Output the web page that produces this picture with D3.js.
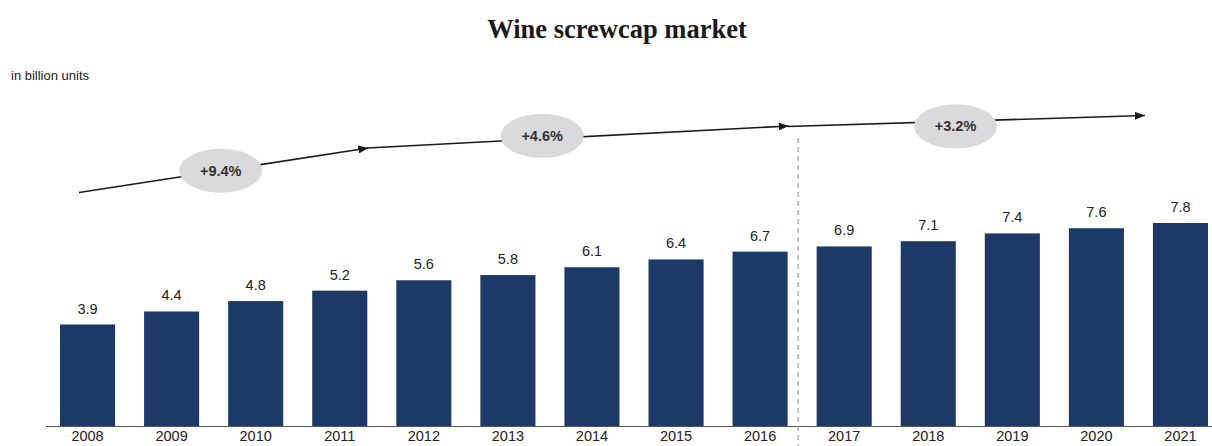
<!DOCTYPE html>
<html>
<head>
<meta charset="utf-8">
<script src="https://cdn.jsdelivr.net/npm/d3@7"></script>
<style>
  body { margin: 0; background: #fff; }
  text { font-family: "Liberation Sans", Arial, sans-serif; }
</style>
</head>
<body>
<div id="chart"></div>
<script>
// market volume, billion units
var years = ["2008","2009","2010","2011","2012","2013","2014","2015","2016","2017","2018","2019","2020","2021"];
var values = [3.9, 4.4, 4.8, 5.2, 5.6, 5.8, 6.1, 6.4, 6.7, 6.9, 7.1, 7.4, 7.6, 7.8];

// growth rate labels for each period
var cagrLabels = ["+9.4%", "+4.6%", "+3.2%"];
var cagrFrom = ["2008", "2011", "2016"];
var cagrTo = ["2011", "2016", "2021"];

var width = 1212, height = 446;
var margin = {top: 223, left: 46, right: 0, bottom: 20};

var svg = d3.select("#chart")
    .append("svg")
    .attr("width", width)
    .attr("height", height);

var xScale = d3.scaleBand()
    .domain(years)
    .range([45.5, 1222.5])
    .paddingInner(0.345)
    .paddingOuter(0.1725);

var yScale = d3.scaleLinear()
    .domain([0, d3.max(values)])
    .range([height - margin.bottom, margin.top]);

// title
svg.append("text")
    .attr("x", 617)
    .attr("y", 38)
    .attr("text-anchor", "middle")
    .style("font-family", "'Liberation Serif', 'Times New Roman', serif")
    .style("font-weight", "bold")
    .style("font-size", "26.5px")
    .attr("fill", "#1a1a1a")
    .text("Wine screwcap market");

svg.append("text")
    .attr("x", 11)
    .attr("y", 80)
    .style("font-size", "13px")
    .attr("fill", "#222")
    .text("in billion units");

// bars
svg.selectAll("rect.bar")
    .data(values)
    .enter()
    .append("rect")
    .attr("class", "bar")
    .attr("x", function(d, i) { return xScale(years[i]); })
    .attr("y", function(d) { return yScale(d); })
    .attr("width", xScale.bandwidth())
    .attr("height", function(d) { return yScale(0) - yScale(d); })
    .attr("fill", "#1b3a68");

svg.selectAll("text.val")
    .data(values)
    .enter()
    .append("text")
    .attr("class", "val")
    .attr("x", function(d, i) { return xScale(years[i]) + xScale.bandwidth() / 2; })
    .attr("y", function(d) { return yScale(d) - 11; })
    .attr("text-anchor", "middle")
    .style("font-size", "14.5px")
    .attr("fill", "#222")
    .text(function(d) { return d.toFixed(1); });

// axis
var xAxis = svg.append("g")
    .attr("transform", `translate(0,${yScale(0)})`)
    .call(d3.axisBottom(xScale).tickSize(0).tickPadding(5));
xAxis.select(".domain").remove();
xAxis.selectAll("text")
    .style("font-family", "'Liberation Sans', Arial, sans-serif")
    .style("font-size", "14.5px")
    .attr("fill", "#222");

svg.append("line")
    .attr("x1", 46)
    .attr("x2", width)
    .attr("y1", yScale(0) + 0.5)
    .attr("y2", yScale(0) + 0.5)
    .attr("stroke", "#555")
    .attr("stroke-width", 1.2);

// forecast divider
var divX = xScale("2016") + xScale.bandwidth() + 10.5;
svg.append("line")
    .attr("x1", divX)
    .attr("x2", divX)
    .attr("y1", 138)
    .attr("y2", height)
    .attr("stroke", "#888")
    .attr("stroke-width", 1)
    .attr("stroke-dasharray", "5,4");

// trend arrows
svg.append("defs").append("marker")
    .attr("id", "head")
    .attr("viewBox", "0 0 10 8")
    .attr("refX", 10)
    .attr("refY", 4)
    .attr("markerWidth", 10)
    .attr("markerHeight", 8)
    .attr("markerUnits", "userSpaceOnUse")
    .attr("orient", "auto")
    .append("path")
    .attr("d", "M0,0L10,4L0,8Z")
    .attr("fill", "#1a1a1a");

var arrowStartX = [xScale("2008") + 19, xScale("2011") + xScale.bandwidth(), xScale("2016") + xScale.bandwidth()];
var arrowEndX = [xScale("2011") + xScale.bandwidth() + 1, xScale("2016") + xScale.bandwidth() + 1, xScale("2021") - 8];
var arrowStartY = [192.5, 148, 126.5];
var arrowEndY = [148, 126, 115.5];
var bubbleT = [0.49, 0.415, 0.47];
var bubbleDy = [0, -3, 5];

cagrLabels.forEach(function(lab, i) {
    svg.append("line")
        .attr("x1", arrowStartX[i])
        .attr("y1", arrowStartY[i])
        .attr("x2", arrowEndX[i])
        .attr("y2", arrowEndY[i])
        .attr("stroke", "#1a1a1a")
        .attr("stroke-width", 1.6)
        .attr("marker-end", "url(#head)");
});

cagrLabels.forEach(function(lab, i) {
    var t = bubbleT[i];
    var cx = arrowStartX[i] + (arrowEndX[i] - arrowStartX[i]) * t;
    var cy = arrowStartY[i] + (arrowEndY[i] - arrowStartY[i]) * t + bubbleDy[i];
    svg.append("ellipse")
        .attr("cx", cx)
        .attr("cy", cy)
        .attr("rx", 41.5)
        .attr("ry", 22)
        .attr("fill", "#dadadc");
    svg.append("text")
        .attr("x", cx)
        .attr("y", cy + 5)
        .attr("text-anchor", "middle")
        .style("font-size", "14.5px")
        .style("font-weight", "bold")
        .attr("fill", "#333")
        .text(lab);
});
</script>
</body>
</html>
